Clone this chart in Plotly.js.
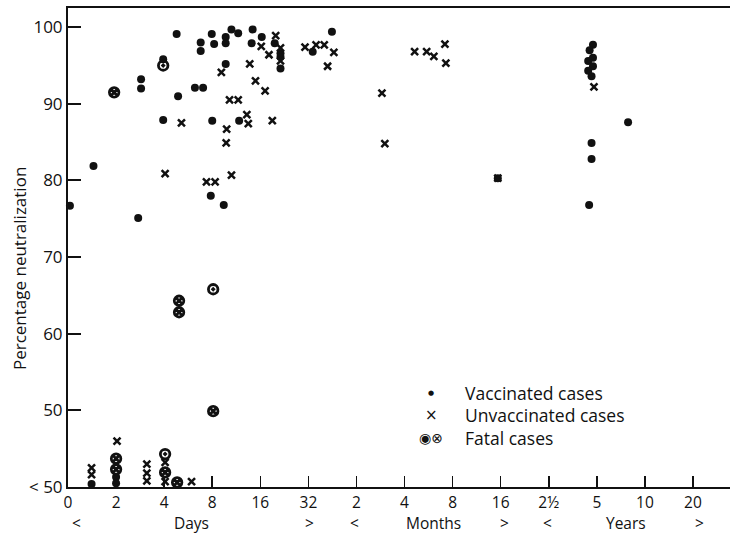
<!DOCTYPE html>
<html>
<head>
<meta charset="utf-8">
<script src="https://cdn.plot.ly/plotly-3.0.1.min.js"></script>
<style>html,body{margin:0;padding:0;background:#fff;}#chart{width:730px;height:533px;}</style>
</head>
<body>
<div id="chart"></div>
<script>
// x positions are on the chart's doubling scale (tick index): 0,2,4,8,16,32 days; 2,4,8,16 months; 2½,5,10,20 years
const tickPos  = [0,1,2,3,4,5,6,7,8,9,10,11,12,13];
const tickText = ['0','2','4','8','16','32','2','4','8','16','2½','5','10','20'];
const yTickVals = [40,50,60,70,80,90,100];
const yTickText = ['< 50','50','60','70','80','90','100'];

const vaccX = [0.04,0.53,0.49,1.00,1.00,1.46,1.52,1.52,1.98,1.98,2.26,2.29,2.64,2.81,2.76,2.76,2.97,2.99,3.00,3.04,3.24,3.28,3.28,3.28,3.40,3.54,3.56,3.84,3.82,4.03,4.30,4.42,4.42,4.42,5.09,5.49,8.94,10.92,10.85,10.92,10.82,10.92,10.82,10.89,10.89,10.89,10.84,11.65];
const vaccY = [76.7,81.9,40.4,41.3,40.5,75.1,93.2,92.0,95.8,87.9,99.1,91.0,92.1,92.1,98.0,96.9,78.0,99.1,87.8,97.8,76.8,98.7,97.9,95.2,99.7,99.2,87.8,99.7,97.9,98.7,97.9,96.6,96.1,94.6,96.8,99.4,80.3,97.7,97.0,96.0,95.6,94.9,94.3,93.6,84.9,82.8,76.8,87.6];

const unvaxX = [0.49,0.49,1.02,1.64,1.64,1.64,2.02,2.02,2.57,2.02,2.36,2.88,3.06,3.19,3.30,3.29,3.40,3.36,3.54,3.72,3.75,3.78,3.90,4.02,4.10,4.18,4.25,4.32,4.42,4.42,4.93,5.16,5.33,5.53,5.40,6.53,6.59,7.21,7.46,7.61,7.84,7.86,8.94,10.94];
const unvaxY = [42.5,41.6,46.0,43.0,41.8,40.8,43.2,40.7,40.7,80.9,87.5,79.8,79.8,94.1,86.7,84.9,80.7,90.5,90.5,88.6,87.4,95.2,93.0,97.5,91.7,96.4,87.8,98.9,97.3,95.6,97.4,97.7,97.7,96.7,94.9,91.4,84.8,96.8,96.8,96.2,97.8,95.3,80.3,92.2];

const fatalVaccX = [1.98,3.02,2.02];
const fatalVaccY = [95.0,65.8,44.3];
const fatalUnvaxX = [0.96,1.00,1.00,2.31,2.31,3.02,2.02,2.27];
const fatalUnvaxY = [91.5,43.7,42.3,64.3,62.8,49.9,41.9,40.6];

const groupLabels = [
  {x:0.17, t:'<'}, {x:2.57, t:'Days'}, {x:5.02, t:'>'},
  {x:5.95, t:'<'}, {x:7.6, t:'Months'}, {x:9.07, t:'>'},
  {x:9.98, t:'<'}, {x:11.6, t:'Years'}, {x:13.14, t:'>'}
];

const FONT = '"Open Sans", Lato, sans-serif';
const INK = '#111';

const traces = [
  {x: vaccX, y: vaccY, type:'scatter', mode:'markers', name:'Vaccinated cases',
   marker:{symbol:'circle', size:8, color:INK}, cliponaxis:false},
  {x: unvaxX, y: unvaxY, type:'scatter', mode:'markers', name:'Unvaccinated cases',
   marker:{symbol:'x-thin-open', size:7, color:INK, line:{width:2.5, color:INK}}, cliponaxis:false},
  {x: fatalVaccX, y: fatalVaccY, type:'scatter', mode:'markers', name:'Fatal cases (vaccinated)',
   marker:{symbol:'circle-open-dot', size:9.5, color:INK, line:{width:2.8, color:INK}}, cliponaxis:false},
  {x: fatalUnvaxX, y: fatalUnvaxY, type:'scatter', mode:'markers', name:'Fatal cases (unvaccinated)',
   marker:{symbol:'circle-x-open', size:9.5, color:INK, line:{width:2.8, color:INK}}, cliponaxis:false}
];

const annotations = groupLabels.map(g => ({
  x: g.x, y: -0.0745, xref:'x', yref:'paper', text: g.t, showarrow:false,
  xanchor:'center', yanchor:'middle', borderpad:0,
  font:{family:FONT, size:15.5, color:INK}
}));

// y-axis title, placed as in the original figure
annotations.push({x:-0.074, y:0.455, xref:'paper', yref:'paper', text:'Percentage neutralization',
  showarrow:false, textangle:-90, xanchor:'center', yanchor:'middle',
  font:{family:FONT, size:17, color:INK}});

// legend drawn as text in the plot area
const legendRows = [
  {sym:'●', label:'Vaccinated cases', y:0.196, size:7},
  {sym:'×', label:'Unvaccinated cases', y:0.150, size:15},
  {sym:'◉⊗', label:'Fatal cases', y:0.102, size:14}
];
legendRows.forEach(r => {
  annotations.push({x:0.549, y:r.y, xref:'paper', yref:'paper', text:r.sym, showarrow:false,
    xanchor:'center', yanchor:'middle', font:{family:'DejaVu Sans', size:r.size, color:INK}});
  annotations.push({x:0.596, y:r.y, xref:'paper', yref:'paper', text:r.label, showarrow:false,
    xanchor:'left', yanchor:'middle', font:{family:FONT, size:17.5, color:INK}});
});

const layout = {
  width:730, height:533,
  margin:{l:68, r:0, t:8, b:46},
  paper_bgcolor:'#fff', plot_bgcolor:'#fff',
  showlegend:false,
  font:{family:FONT, color:INK},
  xaxis:{
    range:[0,13.77], tickmode:'array', tickvals:tickPos, ticktext:tickText,
    ticks:'inside', ticklen:11, tickwidth:1.5, tickcolor:INK,
    showline:true, linecolor:INK, linewidth:2, mirror:true,
    showgrid:false, zeroline:false, tickfont:{family:FONT, size:15.5, color:INK}
  },
  yaxis:{
    range:[40,102.5], tickmode:'array', tickvals:yTickVals, ticktext:yTickText,
    ticks:'inside', ticklen:13, tickwidth:2, tickcolor:INK,
    showline:true, linecolor:INK, linewidth:2, mirror:false,
    showgrid:false, zeroline:false, tickfont:{family:FONT, size:17, color:INK}
  },
  annotations: annotations
};

Plotly.newPlot('chart', traces, layout, {displayModeBar:false, staticPlot:true});
</script>
</body>
</html>
